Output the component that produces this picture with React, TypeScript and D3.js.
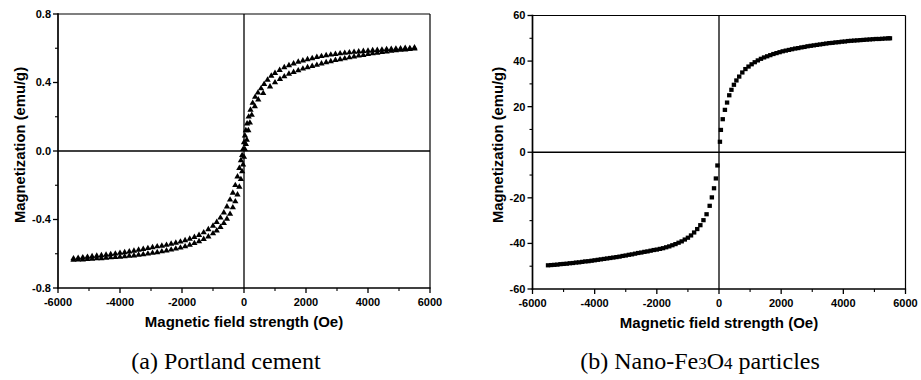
import React from 'react';
import * as d3 from 'd3';

// Axis ticks
const xTicks = [-6000, -4000, -2000, 0, 2000, 4000, 6000];
const xMinor = [-5000, -3000, -1000, 1000, 3000, 5000];
const yTicksA = [-0.8, -0.4, 0, 0.4, 0.8];
const yLabelsA = ['-0.8', '-0.4', '0.0', '0.4', '0.8'];
const yMinorA = [-0.6, -0.2, 0.2, 0.6];
const yTicksB = [-60, -40, -20, 0, 20, 40, 60];
const yLabelsB = ['-60', '-40', '-20', '0', '20', '40', '60'];
const yMinorB = [-50, -30, -10, 10, 30, 50];

// (a) Portland cement, descending-field branch
const cementDownH = [5500, 5350, 5200, 5050, 4900, 4750, 4600, 4450, 4300, 4150, 4000, 3850, 3700, 3550, 3400, 3250, 3100, 2950, 2800, 2650, 2500, 2350, 2200, 2050, 1900, 1750, 1600, 1450, 1300, 1150, 1000, 880, 760, 650, 550, 450, 360, 280, 210, 150, 100, 60, 30, 0, -30, -60, -100, -150, -210, -280, -360, -450, -550, -650, -760, -880, -1000, -1150, -1300, -1450, -1600, -1750, -1900, -2050, -2200, -2350, -2500, -2650, -2800, -2950, -3100, -3250, -3400, -3550, -3700, -3850, -4000, -4150, -4300, -4450, -4600, -4750, -4900, -5050, -5200, -5350, -5500];
const cementDownM = [0.603, 0.600, 0.601, 0.598, 0.597, 0.595, 0.594, 0.591, 0.589, 0.587, 0.585, 0.583, 0.580, 0.578, 0.575, 0.572, 0.569, 0.566, 0.562, 0.558, 0.553, 0.548, 0.541, 0.535, 0.528, 0.520, 0.510, 0.500, 0.488, 0.472, 0.455, 0.438, 0.415, 0.390, 0.365, 0.340, 0.315, 0.280, 0.240, 0.200, 0.160, 0.120, 0.090, 0.050, 0.010, -0.025, -0.055, -0.100, -0.150, -0.200, -0.245, -0.285, -0.325, -0.360, -0.390, -0.415, -0.437, -0.458, -0.476, -0.491, -0.503, -0.513, -0.522, -0.530, -0.537, -0.543, -0.549, -0.554, -0.558, -0.563, -0.568, -0.573, -0.578, -0.583, -0.588, -0.592, -0.596, -0.600, -0.603, -0.607, -0.610, -0.613, -0.616, -0.619, -0.622, -0.625, -0.628];

// (a) Portland cement, ascending-field branch
const cementUpH = [-5500, -5350, -5200, -5050, -4900, -4750, -4600, -4450, -4300, -4150, -4000, -3850, -3700, -3550, -3400, -3250, -3100, -2950, -2800, -2650, -2500, -2350, -2200, -2050, -1900, -1750, -1600, -1450, -1300, -1150, -1000, -880, -760, -650, -550, -450, -360, -280, -210, -150, -100, -60, -30, 0, 30, 60, 90, 140, 190, 250, 350, 460, 620, 840, 1000, 1160, 1300, 1450, 1600, 1750, 1900, 2050, 2200, 2350, 2500, 2650, 2800, 2950, 3100, 3250, 3400, 3550, 3700, 3850, 4000, 4150, 4300, 4450, 4600, 4750, 4900, 5050, 5200, 5350, 5500];
const cementUpM = [-0.636, -0.635, -0.634, -0.632, -0.630, -0.628, -0.627, -0.624, -0.622, -0.620, -0.618, -0.616, -0.613, -0.611, -0.607, -0.604, -0.600, -0.596, -0.592, -0.587, -0.582, -0.577, -0.571, -0.565, -0.558, -0.549, -0.539, -0.528, -0.515, -0.500, -0.482, -0.465, -0.445, -0.422, -0.397, -0.368, -0.330, -0.295, -0.255, -0.210, -0.165, -0.120, -0.080, -0.035, 0.010, 0.040, 0.065, 0.120, 0.165, 0.210, 0.260, 0.300, 0.337, 0.376, 0.400, 0.420, 0.435, 0.450, 0.460, 0.470, 0.480, 0.488, 0.495, 0.502, 0.510, 0.517, 0.523, 0.530, 0.535, 0.540, 0.546, 0.551, 0.556, 0.560, 0.565, 0.569, 0.573, 0.577, 0.580, 0.584, 0.587, 0.590, 0.592, 0.595, 0.597];

// (b) Nano-Fe3O4 particles
const feH = [-5500, -5400, -5300, -5200, -5100, -5000, -4900, -4800, -4700, -4600, -4500, -4400, -4300, -4200, -4100, -4000, -3900, -3800, -3700, -3600, -3500, -3400, -3300, -3200, -3100, -3000, -2900, -2800, -2700, -2600, -2500, -2400, -2300, -2200, -2100, -2000, -1900, -1800, -1700, -1600, -1500, -1400, -1300, -1200, -1100, -1000, -900, -800, -700, -600, -500, -400, -300, -230, -160, -100, -50, 30, 60, 120, 190, 260, 330, 400, 480, 560, 650, 750, 850, 950, 1050, 1150, 1250, 1350, 1450, 1550, 1650, 1750, 1850, 1950, 2050, 2150, 2250, 2350, 2450, 2550, 2650, 2750, 2850, 2950, 3050, 3150, 3250, 3350, 3450, 3550, 3650, 3750, 3850, 3950, 4050, 4150, 4250, 4350, 4450, 4550, 4650, 4750, 4850, 4950, 5050, 5150, 5250, 5350, 5450, 5500];
const feM = [-49.6, -49.5, -49.4, -49.3, -49.1, -49.0, -48.9, -48.7, -48.6, -48.4, -48.3, -48.1, -47.9, -47.8, -47.6, -47.4, -47.2, -47.0, -46.8, -46.6, -46.4, -46.2, -46.0, -45.8, -45.5, -45.3, -45.0, -44.8, -44.5, -44.2, -44.0, -43.7, -43.5, -43.2, -42.9, -42.7, -42.4, -42.1, -41.7, -41.3, -40.8, -40.3, -39.7, -39.1, -38.3, -37.5, -36.5, -35.2, -33.7, -32.0, -29.8, -27.2, -23.5, -19.8, -15.8, -11.5, -5.8, 4.6, 9.8, 14.5, 18.6, 21.8, 25.0, 27.4, 29.6, 31.5, 33.2, 35.0, 36.5, 37.6, 38.6, 39.5, 40.3, 41.0, 41.6, 42.1, 42.6, 43.1, 43.5, 43.9, 44.3, 44.6, 44.9, 45.2, 45.5, 45.7, 46.0, 46.2, 46.5, 46.7, 46.9, 47.1, 47.3, 47.5, 47.7, 47.9, 48.0, 48.2, 48.3, 48.5, 48.6, 48.8, 48.9, 49.0, 49.1, 49.2, 49.3, 49.4, 49.5, 49.6, 49.7, 49.7, 49.8, 49.9, 50.0, 50.0];

const SANS = '"Liberation Sans", Arial, Helvetica, sans-serif';
const SERIF = '"Liberation Serif", "Times New Roman", serif';

type PanelProps = {
  left: number; right: number; top: number; bottom: number;
  yDomain: [number, number];
  yTicks: number[]; yLabels: string[]; yMinor: number[];
  titleX: number;
  children: (x: d3.ScaleLinear<number, number>, y: d3.ScaleLinear<number, number>) => React.ReactNode;
};

function Panel(p: PanelProps) {
  const x = d3.scaleLinear().domain([-6000, 6000]).range([p.left, p.right]);
  const y = d3.scaleLinear().domain(p.yDomain).range([p.bottom, p.top]);
  const cx = (p.left + p.right) / 2;
  return (
    <g>
      <line x1={x(0)} x2={x(0)} y1={p.top} y2={p.bottom} stroke="#000" strokeWidth={1.3} />
      <line x1={p.left} x2={p.right} y1={y(0)} y2={y(0)} stroke="#000" strokeWidth={1.3} />
      {p.children(x, y)}
      <line x1={p.left} x2={p.right} y1={p.top} y2={p.top} stroke="#000" strokeWidth={1.2} />
      <line x1={p.right} x2={p.right} y1={p.top} y2={p.bottom} stroke="#000" strokeWidth={1.2} />
      <line x1={p.left} x2={p.left} y1={p.top - 0.7} y2={p.bottom + 0.8} stroke="#000" strokeWidth={1.7} />
      <line x1={p.left - 0.8} x2={p.right + 0.6} y1={p.bottom} y2={p.bottom} stroke="#000" strokeWidth={1.7} />
      {xTicks.map((t) => (
        <g key={'xt' + t}>
          <line x1={x(t)} x2={x(t)} y1={p.bottom} y2={p.bottom + 5} stroke="#000" strokeWidth={1.3} />
          <text x={x(t)} y={p.bottom + 17.5} textAnchor="middle" fontFamily={SANS} fontWeight="bold" fontSize={11}>{t}</text>
        </g>
      ))}
      {xMinor.map((t) => (
        <line key={'xm' + t} x1={x(t)} x2={x(t)} y1={p.bottom} y2={p.bottom + 3} stroke="#000" strokeWidth={1.1} />
      ))}
      {p.yTicks.map((t, i) => (
        <g key={'yt' + t}>
          <line x1={p.left - 5} x2={p.left} y1={y(t)} y2={y(t)} stroke="#000" strokeWidth={1.3} />
          <text x={p.left - 7} y={y(t) + 3.9} textAnchor="end" fontFamily={SANS} fontWeight="bold" fontSize={11}>{p.yLabels[i]}</text>
        </g>
      ))}
      {p.yMinor.map((t) => (
        <line key={'ym' + t} x1={p.left - 3} x2={p.left} y1={y(t)} y2={y(t)} stroke="#000" strokeWidth={1.1} />
      ))}
      <text x={cx} y={p.bottom + 39} textAnchor="middle" fontFamily={SANS} fontWeight="bold" fontSize={15}>Magnetic field strength (Oe)</text>
      <text transform={`translate(${p.titleX},145) rotate(-90)`} textAnchor="middle" fontFamily={SANS} fontWeight="bold" fontSize={14.8}>Magnetization (emu/g)</text>
    </g>
  );
}

export default function App() {
  const tri = d3.symbol().type(d3.symbolTriangle).size(17)() as string;
  return (
    <svg width={921} height={380} style={{ position: 'absolute', left: 0, top: 0, background: '#fff' }}>
      <rect width={921} height={380} fill="#fff" />
      <Panel left={58} right={430} top={14} bottom={288} yDomain={[-0.8, 0.8]}
        yTicks={yTicksA} yLabels={yLabelsA} yMinor={yMinorA} titleX={25}>
        {(x, y) => (
          <g>
            {cementDownH.map((h, i) => (
              <path key={'d' + i} d={tri} transform={`translate(${x(h)},${y(cementDownM[i])})`} fill="#000" />
            ))}
            {cementUpH.map((h, i) => (
              <path key={'u' + i} d={tri} transform={`translate(${x(h)},${y(cementUpM[i])})`} fill="#000" />
            ))}
          </g>
        )}
      </Panel>
      <Panel left={532.5} right={905.5} top={15.5} bottom={289} yDomain={[-60, 60]}
        yTicks={yTicksB} yLabels={yLabelsB} yMinor={yMinorB} titleX={503}>
        {(x, y) => (
          <g>
            {feH.map((h, i) => (
              <rect key={'f' + i} x={x(h) - 2.2} y={y(feM[i]) - 2.1} width={4.4} height={4.2} fill="#000" />
            ))}
          </g>
        )}
      </Panel>
      <text x={226} y={369} textAnchor="middle" fontFamily={SERIF} fontSize={24}>(a) Portland cement</text>
      <text x={700} y={369} textAnchor="middle" fontFamily={SERIF} fontSize={24}>
        (b) Nano-Fe<tspan fontSize={17}>3</tspan>O<tspan fontSize={17}>4</tspan> particles
      </text>
    </svg>
  );
}
